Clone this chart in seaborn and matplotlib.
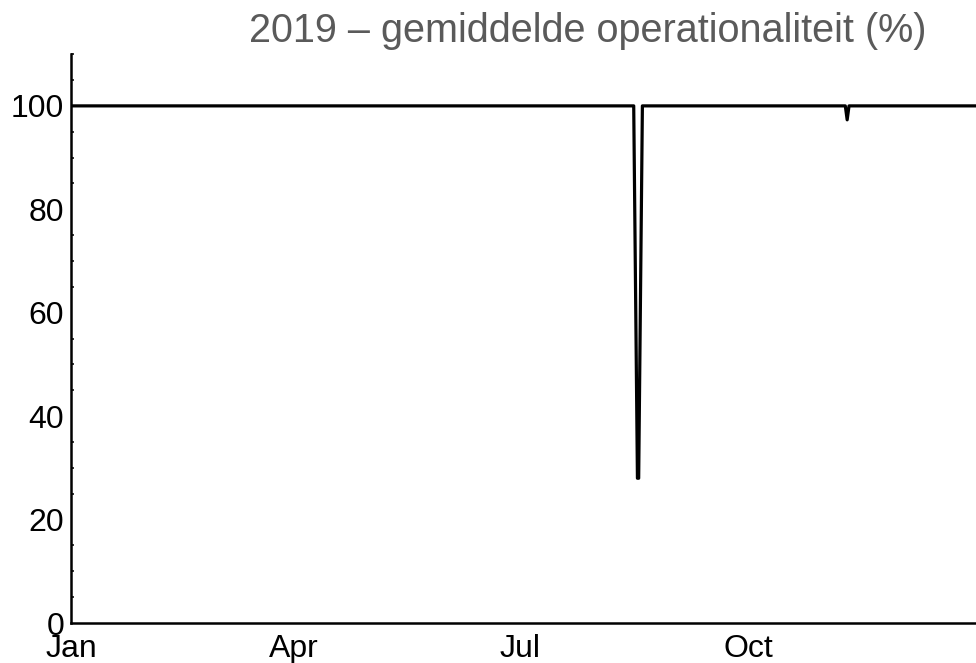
import pandas as pd
import numpy as np
import matplotlib.pyplot as plt
from matplotlib.ticker import MultipleLocator
import seaborn as sns

# data (daily mean operationality, change points only)
dates = ['2019-01-01 00:00', '2019-08-15 23:00', '2019-08-17 11:00', '2019-08-17 23:00',
         '2019-08-19 11:00', '2019-11-09 07:00', '2019-11-10 01:00',
         '2019-11-10 19:00', '2020-01-01 00:00']
values = [100, 100, 28, 28, 100, 100, 97.3, 100, 100]
month_labels = ['Jan', '', '', 'Apr', '', '', 'Jul', '', '', 'Oct', '', '']
title = '2019 \u2013 gemiddelde operationaliteit (%)'

sns.set_style('white')
plt.rcParams['font.family'] = ['Liberation Sans', 'DejaVu Sans']

df = pd.DataFrame({'date': pd.to_datetime(dates, format='%Y-%m-%d %H:%M'), 'value': values})

fig = plt.figure(figsize=(9.76, 6.63), dpi=100)
ax = fig.add_axes([0.0727, 0.0603, 0.9273, 0.858])
sns.lineplot(data=df, x='date', y='value', color='black', linewidth=2.3, ax=ax,
             solid_joinstyle='round', solid_capstyle='round')

ax.set_xlim(pd.Timestamp('2019-01-01'), pd.Timestamp('2020-01-01'))
ax.set_ylim(0, 110)
ax.set_xlabel('')
ax.set_ylabel('')

month_ticks = pd.date_range('2019-01-01', periods=12, freq='MS')
ax.set_xticks(month_ticks)
ax.set_xticklabels(month_labels)
ax.yaxis.set_major_locator(MultipleLocator(20))
ax.yaxis.set_minor_locator(MultipleLocator(5))
ax.tick_params(axis='both', which='major', direction='in', width=1.5,
               labelsize=23, colors='black')
ax.tick_params(axis='y', which='major', length=3, pad=5)
ax.tick_params(axis='y', which='minor', direction='in', length=2.5, width=1.3, left=True)
ax.tick_params(axis='x', which='major', length=6, pad=8)

sns.despine(ax=ax)
for s in ['left', 'bottom']:
    ax.spines[s].set_linewidth(1.8)
    ax.spines[s].set_color('black')

fig.text(0.602, 1 - 31 / 663, title, ha='center', va='center', fontsize=28.5, color='#5a5a5a')

fig.savefig('out.png', dpi=100)
